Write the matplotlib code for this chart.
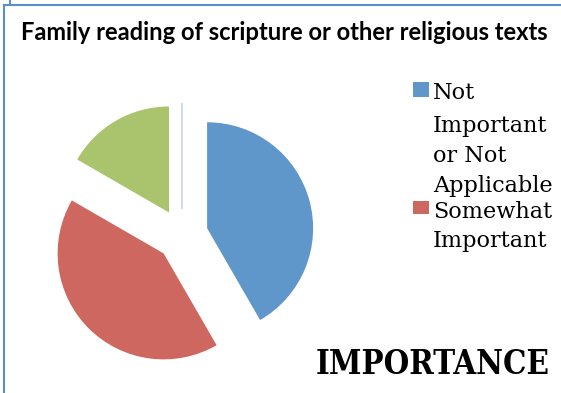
import matplotlib
matplotlib.use("Agg")
import matplotlib.pyplot as plt
from matplotlib.patches import Rectangle
from matplotlib.lines import Line2D

# ---- data ----
categories = ["Not Important or Not Applicable", "Somewhat Important", "Very Important", "Other"]
values = [5, 5, 2, 0]
colors = ["#6097CA", "#CD675F", "#AAC46D", "#FFFFFF"]
title = "Family reading of scripture or other religious texts"
axis_title = "IMPORTANCE"
legend_lines = [["Not", "Important", "or Not", "Applicable"], ["Somewhat", "Important"]]

W, H = 561, 393
fig = plt.figure(figsize=(W / 100, H / 100), dpi=100)
fig.patch.set_facecolor("white")
ax = fig.add_axes([0, 0, 1, 1])

def py(y):
    return H - y

wedges, _ = ax.pie(values, colors=colors, startangle=90, counterclock=False,
                   center=(182, py(235)), radius=106, explode=[26] * len(values),
                   wedgeprops=dict(linewidth=0))
zw = wedges[3]
zw.set_edgecolor("#C6D6EA")
zw.set_linewidth(1.2)

ax.set_xlim(0, W)
ax.set_ylim(0, H)
ax.set_aspect("auto")
ax.axis("off")

# border
ax.add_line(Line2D([4, 4], [py(5), py(393)], color="#5B8FCB", lw=1.5))
ax.add_line(Line2D([4, W], [py(5), py(5)], color="#5B8FCB", lw=1.5))
ax.add_line(Line2D([10, 10], [py(0), py(5)], color="#5B8FCB", lw=1.5))

# title
ax.text(284, py(40), title, ha="center", va="baseline", fontsize=17.1,
        fontweight="bold", family="Lato", color="#000000")

# legend
ax.add_patch(Rectangle((413, py(97)), 16, 15, color=colors[0], lw=0))
ax.add_patch(Rectangle((413, py(214)), 16, 13, color=colors[1], lw=0))
baselines = [[99, 132, 162, 192], [218, 247]]
for lines, bls in zip(legend_lines, baselines):
    for t, b in zip(lines, bls):
        ax.text(433, py(b), t, ha="left", va="baseline", fontsize=16.1,
                family="DejaVu Serif", color="#000000")

ax.text(550, py(374), axis_title, ha="right", va="baseline", fontsize=23.6,
        fontweight="bold", family="DejaVu Serif", fontstretch="condensed",
        color="#000000")

fig.savefig("out.png", dpi=100)
